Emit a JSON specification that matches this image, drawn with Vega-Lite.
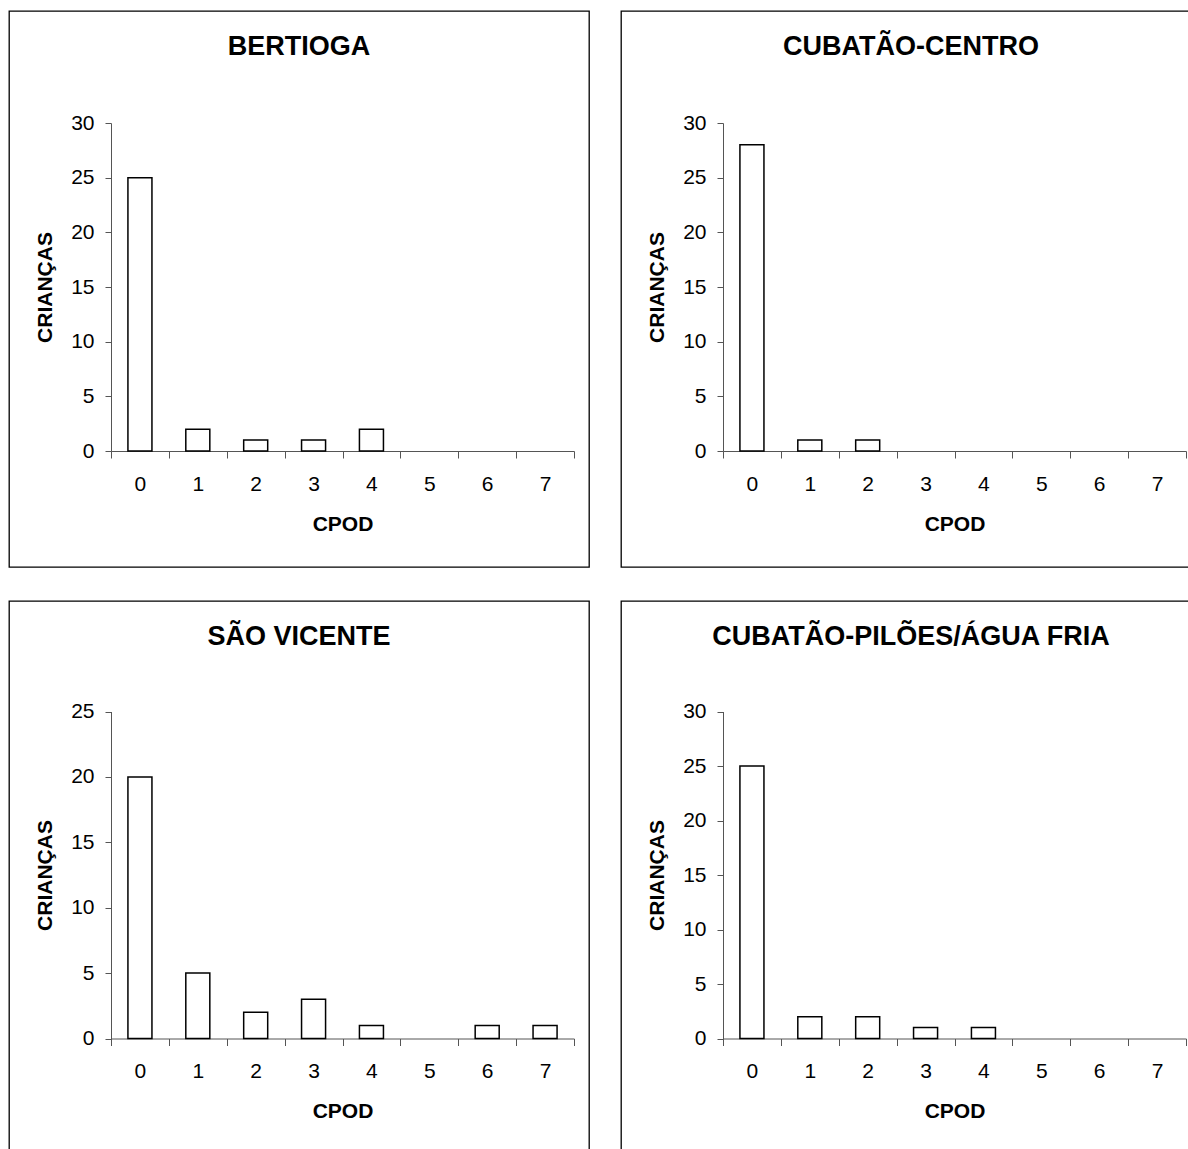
{
  "$schema": "https://vega.github.io/schema/vega-lite/v6.json",
  "padding": {"left": 8, "top": 10, "right": 0, "bottom": 0},
  "background": "white",
  "datasets": {
    "counts": [
      {"panel": "BERTIOGA", "cpod": 0, "n": 25},
      {"panel": "BERTIOGA", "cpod": 1, "n": 2},
      {"panel": "BERTIOGA", "cpod": 2, "n": 1},
      {"panel": "BERTIOGA", "cpod": 3, "n": 1},
      {"panel": "BERTIOGA", "cpod": 4, "n": 2},
      {"panel": "CUBATÃO-CENTRO", "cpod": 0, "n": 28},
      {"panel": "CUBATÃO-CENTRO", "cpod": 1, "n": 1},
      {"panel": "CUBATÃO-CENTRO", "cpod": 2, "n": 1},
      {"panel": "SÃO VICENTE", "cpod": 0, "n": 20},
      {"panel": "SÃO VICENTE", "cpod": 1, "n": 5},
      {"panel": "SÃO VICENTE", "cpod": 2, "n": 2},
      {"panel": "SÃO VICENTE", "cpod": 3, "n": 3},
      {"panel": "SÃO VICENTE", "cpod": 4, "n": 1},
      {"panel": "SÃO VICENTE", "cpod": 6, "n": 1},
      {"panel": "SÃO VICENTE", "cpod": 7, "n": 1},
      {"panel": "CUBATÃO-PILÕES/ÁGUA FRIA", "cpod": 0, "n": 25},
      {"panel": "CUBATÃO-PILÕES/ÁGUA FRIA", "cpod": 1, "n": 2},
      {"panel": "CUBATÃO-PILÕES/ÁGUA FRIA", "cpod": 2, "n": 2},
      {"panel": "CUBATÃO-PILÕES/ÁGUA FRIA", "cpod": 3, "n": 1},
      {"panel": "CUBATÃO-PILÕES/ÁGUA FRIA", "cpod": 4, "n": 1}
    ]
  },
  "config": {
    "font": "Liberation Sans",
    "view": {"stroke": "#000", "strokeWidth": 1.3},
    "axis": {
      "domainColor": "#555", "tickColor": "#555", "domainWidth": 1, "tickWidth": 1,
      "labelColor": "#000", "labelFont": "Liberation Sans", "labelFontSize": 21,
      "titleFont": "Liberation Sans", "titleFontSize": 21, "titleFontWeight": "bold", "titleColor": "#000",
      "grid": false
    },
    "title": {"font": "Liberation Sans", "fontSize": 27, "fontWeight": "bold", "color": "#000", "anchor": "middle", "baseline": "alphabetic", "offset": -50}
  },
  "spacing": 32,
  "vconcat": [
    {
      "spacing": 30,
      "hconcat": [
        {
          "width": 580, "height": 556,
          "title": "BERTIOGA",
          "data": {"name": "counts"},
          "transform": [{"filter": "datum.panel === 'BERTIOGA'"}],
          "mark": {"type": "bar", "width": {"band": 0.415}, "fill": "white", "stroke": "#000", "strokeWidth": 1.5},
          "encoding": {
            "x": {"field": "cpod", "type": "ordinal",
              "scale": {"domain": [0,1,2,3,4,5,6,7], "range": [102, 565], "paddingInner": 0, "paddingOuter": 0},
              "axis": {"title": "CPOD", "labelAngle": 0, "offset": -116, "tickBand": "extent", "tickSize": 7, "labelPadding": 15, "titlePadding": 19}},
            "y": {"field": "n", "type": "quantitative",
              "scale": {"domain": [0, 30], "range": [440, 112], "nice": false},
              "axis": {"title": "CRIANÇAS", "values": [0,5,10,15,20,25,30], "offset": -102, "tickSize": 6, "labelPadding": 11, "titlePadding": 15}}
          }
        },
        {
          "width": 580, "height": 556,
          "title": "CUBATÃO-CENTRO",
          "data": {"name": "counts"},
          "transform": [{"filter": "datum.panel === 'CUBATÃO-CENTRO'"}],
          "mark": {"type": "bar", "width": {"band": 0.415}, "fill": "white", "stroke": "#000", "strokeWidth": 1.5},
          "encoding": {
            "x": {"field": "cpod", "type": "ordinal",
              "scale": {"domain": [0,1,2,3,4,5,6,7], "range": [102, 565], "paddingInner": 0, "paddingOuter": 0},
              "axis": {"title": "CPOD", "labelAngle": 0, "offset": -116, "tickBand": "extent", "tickSize": 7, "labelPadding": 15, "titlePadding": 19}},
            "y": {"field": "n", "type": "quantitative",
              "scale": {"domain": [0, 30], "range": [440, 112], "nice": false},
              "axis": {"title": "CRIANÇAS", "values": [0,5,10,15,20,25,30], "offset": -102, "tickSize": 6, "labelPadding": 11, "titlePadding": 15}}
          }
        }
      ]
    },
    {
      "spacing": 30,
      "hconcat": [
        {
          "width": 580, "height": 556,
          "title": "SÃO VICENTE",
          "data": {"name": "counts"},
          "transform": [{"filter": "datum.panel === 'SÃO VICENTE'"}],
          "mark": {"type": "bar", "width": {"band": 0.415}, "fill": "white", "stroke": "#000", "strokeWidth": 1.5},
          "encoding": {
            "x": {"field": "cpod", "type": "ordinal",
              "scale": {"domain": [0,1,2,3,4,5,6,7], "range": [102, 565], "paddingInner": 0, "paddingOuter": 0},
              "axis": {"title": "CPOD", "labelAngle": 0, "offset": -118.5, "tickBand": "extent", "tickSize": 7, "labelPadding": 15, "titlePadding": 19}},
            "y": {"field": "n", "type": "quantitative",
              "scale": {"domain": [0, 25], "range": [437.5, 110.5], "nice": false},
              "axis": {"title": "CRIANÇAS", "values": [0,5,10,15,20,25], "offset": -102, "tickSize": 6, "labelPadding": 11, "titlePadding": 15}}
          }
        },
        {
          "width": 580, "height": 556,
          "title": "CUBATÃO-PILÕES/ÁGUA FRIA",
          "data": {"name": "counts"},
          "transform": [{"filter": "datum.panel === 'CUBATÃO-PILÕES/ÁGUA FRIA'"}],
          "mark": {"type": "bar", "width": {"band": 0.415}, "fill": "white", "stroke": "#000", "strokeWidth": 1.5},
          "encoding": {
            "x": {"field": "cpod", "type": "ordinal",
              "scale": {"domain": [0,1,2,3,4,5,6,7], "range": [102, 565], "paddingInner": 0, "paddingOuter": 0},
              "axis": {"title": "CPOD", "labelAngle": 0, "offset": -118.5, "tickBand": "extent", "tickSize": 7, "labelPadding": 15, "titlePadding": 19}},
            "y": {"field": "n", "type": "quantitative",
              "scale": {"domain": [0, 30], "range": [437.5, 110.5], "nice": false},
              "axis": {"title": "CRIANÇAS", "values": [0,5,10,15,20,25,30], "offset": -102, "tickSize": 6, "labelPadding": 11, "titlePadding": 15}}
          }
        }
      ]
    }
  ]
}
